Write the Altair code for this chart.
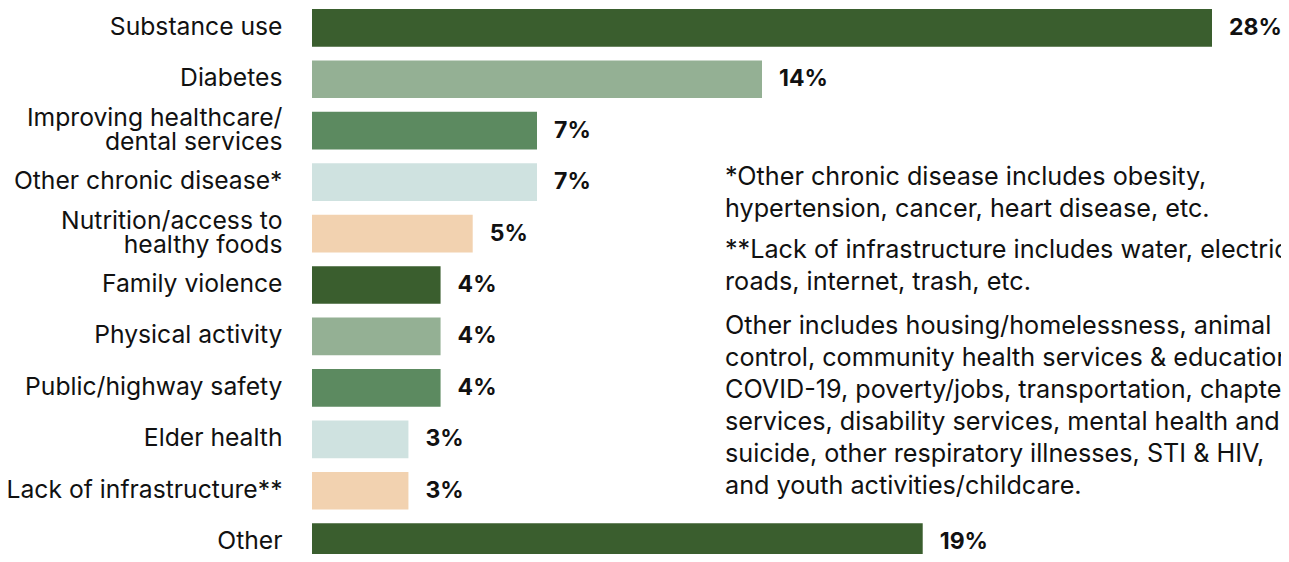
import altair as alt
import pandas as pd

categories = [
    "Substance use",
    "Diabetes",
    "Improving healthcare/\ndental services",
    "Other chronic disease*",
    "Nutrition/access to\nhealthy foods",
    "Family violence",
    "Physical activity",
    "Public/highway safety",
    "Elder health",
    "Lack of infrastructure**",
    "Other",
]
values = [28, 14, 7, 7, 5, 4, 4, 4, 3, 3, 19]
palette = ["#3a5e2e", "#94b094", "#5c8a60", "#cfe2e0", "#f2d2b0"]
bar_colors = [palette[i % 5] for i in range(len(categories))]

notes = [
    "*Other chronic disease includes obesity,\nhypertension, cancer, heart disease, etc.",
    "**Lack of infrastructure includes water, electric,\nroads, internet, trash, etc.",
    "Other includes housing/homelessness, animal\ncontrol, community health services & education,\nCOVID-19, poverty/jobs, transportation, chapter\nservices, disability services, mental health and\nsuicide, other respiratory illnesses, STI & HIV,\nand youth activities/childcare.",
]
note_y = [168, 241, 317]

df = pd.DataFrame({
    "cat": categories,
    "value": values,
    "color": bar_colors,
    "label": [f"{v}%" for v in values],
})

FONT = "Inter"

y = alt.Y(
    "cat:N",
    sort=categories,
    scale=alt.Scale(domain=categories, paddingInner=0.268, paddingOuter=0, range=[0, 552]),
    axis=alt.Axis(
        title=None, domain=False, ticks=False, grid=False,
        labelPadding=30, labelFontSize=24.7, labelFont=FONT, labelColor="#111111",
        labelLimit=0, labelLineHeight=24,
        labelExpr="split(datum.label, '\\n')",
        labelOffset={"expr": "indexof(datum.label, '\\n') >= 0 ? -12 : 0"},
    ),
)
x = alt.X("value:Q", scale=alt.Scale(domain=[0, 28], nice=False, zero=True), axis=None)

base = alt.Chart(df)
bars = base.mark_bar(clip=True).encode(y=y, x=x, color=alt.Color("color:N", scale=None))
vals = base.mark_text(
    align="left", baseline="middle", dx=17, fontSize=23, fontWeight="bold",
    font=FONT, color="#111111"
).encode(y=y, x=x, text="label:N")

layers = [bars, vals]
for t, yy in zip(notes, note_y):
    layers.append(
        alt.Chart(pd.DataFrame({"t": [t]})).mark_text(
            align="left", baseline="middle", fontSize=25.2, font=FONT,
            color="#111111", lineBreak="\n", lineHeight=32,
        ).encode(x=alt.value(413), y=alt.value(yy), text="t:N")
    )

chart = alt.layer(*layers).properties(
    width=900, height=545,
    autosize=alt.AutoSizeParams(type="none"),
    padding={"left": 304, "top": 1, "right": 69, "bottom": 0},
).configure_view(stroke=None)

chart.save("out.html", embed_options={"renderer": "svg", "actions": False})
